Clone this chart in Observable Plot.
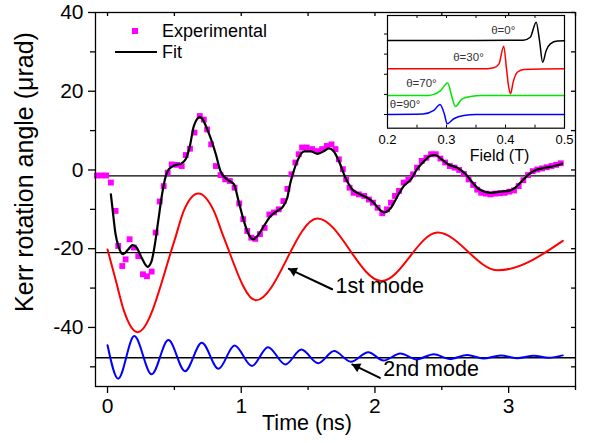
<!DOCTYPE html>
<html>
<head>
<meta charset="utf-8">
<script src="https://cdn.jsdelivr.net/npm/d3@7"></script>
<script src="https://cdn.jsdelivr.net/npm/@observablehq/plot@0.6"></script>
<style>
  html, body { margin: 0; padding: 0; background: white; }
  #wrap { position: relative; width: 596px; height: 443px; }
  #inset { position: absolute; left: 377px; top: 13px; }
</style>
</head>
<body>
<div id="wrap"><div id="main"></div><div id="inset"></div></div>
<script>
// ---- Main chart data (time in ns, Kerr rotation in µrad) ----
const expT = [-0.08,-0.045,-0.01,0.025,0.06,0.08,0.11,0.135,0.165,0.197,0.23,0.265,0.295,0.33,0.36,0.39,0.42,0.45,0.48,0.52,0.555,0.585,0.617,0.65,0.69,0.72,0.745,0.775,0.81,0.845,0.88,0.915,0.95,0.985,1.015,1.045,1.075,1.105,1.14,1.175,1.21,1.245,1.28,1.315,1.345,1.375,1.405,1.43,1.455,1.49,1.53,1.57,1.605,1.64,1.675,1.705,1.73,1.76,1.785,1.81,1.84,1.88,1.92,1.955,1.985,2.02,2.055,2.09,2.12,2.15,2.18,2.215,2.25,2.285,2.315,2.35,2.385,2.42,2.455,2.49,2.525,2.56,2.595,2.63,2.665,2.70,2.735,2.765,2.795,2.83,2.865,2.90,2.935,2.97,3.005,3.04,3.075,3.11,3.145,3.18,3.215,3.25,3.285,3.32,3.355,3.39];
const expV = [-1.4,-1.4,-1.4,-3.2,-10.4,-19.3,-24.4,-22.7,-17.6,-19.7,-21.9,-26.5,-27,-25.8,-15.9,-8,-4.1,-0.7,1.4,1.3,1.0,3.8,5.4,9.5,13.7,12.8,10.3,6.5,1.0,-1.3,-2.4,-2.8,-4.5,-8.5,-12.5,-15.5,-17.2,-17.5,-16.3,-14.7,-11.3,-10.8,-10.0,-7.9,-4.8,-1.1,1.9,4.0,5.7,5.7,5.3,4.8,5.3,6.1,6.5,5.3,2.7,0.2,-2.4,-4.5,-5.8,-6.2,-6.6,-7.5,-8.3,-9.6,-11.0,-10.0,-8.3,-6.6,-5.3,-3.2,-2.4,-1.1,0.6,2.3,3.1,4.0,4.0,2.9,1.9,1.0,0.6,0.0,-1.0,-2.4,-3.8,-5.0,-5.8,-6.0,-6.2,-6.0,-5.9,-5.8,-5.5,-5.2,-4.1,-2.6,-1.3,-0.3,0.1,0.4,0.7,1.0,1.3,1.7];

const fitT = [0.025,0.042,0.06,0.085,0.117,0.154,0.187,0.217,0.255,0.30,0.33,0.354,0.379,0.404,0.429,0.459,0.504,0.549,0.584,0.616,0.646,0.691,0.76,0.81,0.845,0.895,0.945,0.98,1.02,1.055,1.09,1.12,1.17,1.22,1.27,1.305,1.345,1.365,1.385,1.42,1.47,1.52,1.57,1.62,1.655,1.69,1.73,1.78,1.83,1.89,1.94,1.99,2.04,2.07,2.12,2.17,2.215,2.27,2.315,2.37,2.415,2.45,2.5,2.55,2.615,2.68,2.73,2.78,2.865,2.94,3.0,3.05,3.10,3.15,3.2,3.28,3.34,3.40];
const fitV = [-6.2,-11.3,-16.3,-19.7,-21.4,-20.2,-19.1,-19.7,-22.3,-24.6,-23.1,-18.9,-13,-7.0,-2.4,0.2,1.2,1.6,2.7,6.1,11.2,13.4,9.1,4.0,-0.3,-2.4,-3.6,-7.9,-13,-16.3,-17.6,-16.8,-14.2,-11.7,-10.4,-9.6,-7.0,-3.6,-1.1,2.3,4.7,4.7,4.1,4.8,5.5,4.8,2.3,-2.0,-4.9,-6.2,-7.0,-8.3,-10.2,-10.8,-9.6,-6.6,-4.1,-2.4,0.2,2.3,3.6,3.8,2.7,1.4,0.6,-1.1,-3.2,-4.9,-5.8,-5.5,-5.3,-4.5,-2.8,-1.1,-0.1,0.6,1.0,1.6];

const mode1T = [0,0.063,0.123,0.225,0.5,0.57,0.68,0.795,0.87,1.11,1.57,2.05,2.47,2.92,3.405];
const mode1V = [-20.2,-28.2,-35.8,-41.2,-18,-10.4,-6.0,-10.4,-17.2,-33.1,-12.3,-28.2,-15.9,-25.5,-18.0];

const mode2T = [0,0.08,0.2,0.33,0.455,0.58,0.705,0.83,0.95,1.08,1.2,1.33,1.45,1.575,1.695,1.82,1.95,2.065,2.19,2.31,2.44,2.56,2.69,2.81,2.94,3.06,3.19,3.30,3.405];
const mode2V = [-44.5,-53,-42.2,-51.9,-43.2,-51.1,-43.9,-50.5,-44.6,-49.8,-45,-49.4,-45.6,-49.1,-46,-48.7,-46.3,-48.4,-46.6,-48.1,-46.8,-48.0,-47.0,-47.9,-47.1,-47.8,-47.2,-47.7,-47.1];

const baselines = [-1.5, -21.0, -47.7];

const xMajor = [0, 1, 2, 3];
const xMinor = [0.5, 1.5, 2.5, 3.5];
const xTop = [0, 0.5, 1, 1.5, 2, 2.5, 3, 3.5];
const yMajor = [-40, -20, 0, 20, 40];
const yMinor = [-50, -30, -10, 10, 30];
const yRight = [-50, -40, -30, -20, -10, 0, 10, 20, 30, 40];

const annoText = ["1st mode", "2nd mode"];
const annoTextT = [1.705, 2.062];
const annoTextV = [-29.5, -50.6];
const arrowFromT = [1.68, 2.037];
const arrowFromV = [-30.3, -52.8];
const arrowToT = [1.356, 1.83];
const arrowToV = [-25.1, -49.4];

const legendLabels = ["Experimental", "Fit"];
const xTitle = "Time (ns)";
const yTitle = "Kerr rotation angle (μrad)";

// ---- Inset data (field in T, offset curves in arbitrary units) ----
const insetLabels = ["θ=0°", "θ=30°", "θ=70°", "θ=90°"];
const insetLabelF = [0.3758, 0.3114, 0.2317, 0.2039];
const insetLabelV = [4.175, 2.82, 1.556, 0.483];
const insetColors = ["#000000", "#ff0000", "#00e600", "#0000ff"];

const blackF = [0.2,0.35,0.43,0.442,0.452,0.4576,0.463,0.469,0.476,0.488,0.5];
const blackV = [3.68,3.68,3.69,3.84,4.59,3.68,2.60,3.18,3.51,3.65,3.66];
const redF = [0.2,0.37,0.38,0.389,0.397,0.4017,0.405,0.4085,0.413,0.42,0.431,0.5];
const redV = [2.27,2.28,2.32,2.52,3.39,2.27,1.45,1.03,1.61,2.1,2.24,2.27];
const greenF = [0.2,0.27,0.2785,0.29,0.302,0.3085,0.315,0.3266,0.3407,0.36,0.5];
const greenV = [0.94,0.95,1.0,1.19,1.56,0.95,0.40,0.78,0.9,0.94,0.94];
const blueF = [0.2,0.26,0.2785,0.289,0.2966,0.301,0.3124,0.3293,0.35,0.5];
const blueV = [0,0.02,0.2,0.5,0.0,-0.46,-0.21,-0.05,0,0];

const insetXLabels = [0.2, 0.3, 0.4, 0.5];
const insetXTicks = [0.25, 0.3, 0.35, 0.4, 0.45];
const insetYTicks = [0, 1, 2, 3, 4];
const insetXTitle = "Field (T)";

// ---- build tables ----
const zip = (a, b) => a.map((x, i) => ({x, y: b[i]}));
const exp = zip(expT, expV);
const fit = zip(fitT, fitV);
const mode1 = zip(mode1T, mode1V);
const mode2 = zip(mode2T, mode2V);
const annos = annoText.map((s, i) => ({s, x: annoTextT[i], y: annoTextV[i]}));
const arrows = arrowFromT.map((_, i) => ({x1: arrowFromT[i], y1: arrowFromV[i], x2: arrowToT[i], y2: arrowToV[i]}));

const FONT = "'Liberation Sans', Arial, Helvetica, sans-serif";
const fmt = d => String(d);

const W = 596, H = 443, mL = 95, mR = 21, mT = 12, mB = 57;
const innerW = W - mL - mR, innerH = H - mT - mB;

const main = Plot.plot({
  width: W, height: H,
  marginLeft: mL, marginRight: mR, marginTop: mT, marginBottom: mB,
  x: {domain: [-0.09, 3.5]},
  y: {domain: [-55, 40]},
  style: {fontFamily: FONT, color: "black", background: "white", overflow: "visible"},
  marks: [
    Plot.ruleY(baselines, {stroke: "black", strokeWidth: 1.3}),
    Plot.line(mode1, {x: "x", y: "y", curve: "monotone-x", stroke: "#ff0000", strokeWidth: 2}),
    Plot.line(mode2, {x: "x", y: "y", curve: "monotone-x", stroke: "#0000ff", strokeWidth: 2}),
    Plot.dot(exp, {x: "x", y: "y", symbol: "square", fill: "#ff00ff", r: 3.3}),
    Plot.line(fit, {x: "x", y: "y", curve: "monotone-x", stroke: "black", strokeWidth: 2.2}),
    Plot.frame({stroke: "black", strokeWidth: 1.3}),
    Plot.axisX({ticks: xMajor, tickSize: 7, tickPadding: 5, tickFormat: fmt, fontSize: 21, label: null, strokeWidth: 1.3}),
    Plot.axisX({ticks: xMinor, tickSize: 4, tickFormat: () => "", label: null, strokeWidth: 1.3}),
    Plot.axisY({ticks: yMajor, tickSize: 7, tickPadding: 5, tickFormat: fmt, fontSize: 21, label: null, strokeWidth: 1.3}),
    Plot.axisY({ticks: yMinor, tickSize: 5, tickFormat: () => "", label: null, strokeWidth: 1.3}),
    Plot.tickX(xTop, {x: d => d, stroke: "black", strokeWidth: 1.3, insetBottom: innerH - 4}),
    Plot.tickY(yRight, {y: d => d, stroke: "black", strokeWidth: 1.3, insetLeft: innerW - 4}),
    Plot.arrow(arrows, {x1: "x1", y1: "y1", x2: "x2", y2: "y2", stroke: "black", strokeWidth: 2, headLength: 0}),
    Plot.dot(arrows, {x: "x2", y: "y2", symbol: "triangle", fill: "black", r: 3.6, rotate: -64.5, dx: 4.6, dy: 2.2}),
    Plot.text(annos, {x: "x", y: "y", text: "s", textAnchor: "start", fontSize: 21.5, fill: "black"}),
    Plot.text([xTitle], {frameAnchor: "bottom", dx: -28.5, dy: 37, lineAnchor: "middle", fontSize: 21.5, fill: "black"})
  ]
});
document.getElementById("main").appendChild(main);

// legend and y title
const svg = d3.select(main);
const lg = svg.append("g").attr("font-family", FONT).attr("font-size", 18).attr("fill", "black").attr("text-anchor", "start");
lg.append("rect").attr("x", 132).attr("y", 28).attr("width", 6).attr("height", 6).attr("fill", "#ff00ff");
lg.append("text").attr("x", 162).attr("y", 31).attr("dy", "0.35em").text(legendLabels[0]);
lg.append("line").attr("x1", 115).attr("x2", 157).attr("y1", 52).attr("y2", 52).attr("stroke", "black").attr("stroke-width", 2.2);
lg.append("text").attr("x", 162).attr("y", 52).attr("dy", "0.35em").text(legendLabels[1]);
svg.append("text").attr("font-family", FONT).attr("font-size", 25).attr("fill", "black")
  .attr("text-anchor", "middle").attr("transform", "translate(33,172) rotate(-90)").text(yTitle);

// ---- inset ----
const iW = 197, iH = 160, imL = 10, imR = 10, imT = 2, imB = 45.3;
const iInnerW = iW - imL - imR, iInnerH = iH - imT - imB;
const curves = [zip(blackF, blackV), zip(redF, redV), zip(greenF, greenV), zip(blueF, blueV)];
const ilabels = insetLabels.map((s, i) => ({s, x: insetLabelF[i], y: insetLabelV[i]}));

const inset = Plot.plot({
  width: iW, height: iH,
  marginLeft: imL, marginRight: imR, marginTop: imT, marginBottom: imB,
  x: {domain: [0.2, 0.5]},
  y: {domain: [-0.68, 4.92]},
  style: {fontFamily: FONT, color: "black", background: "transparent", overflow: "visible"},
  marks: [
    Plot.frame({fill: "white"}),
    ...curves.map((c, i) => Plot.line(c, {x: "x", y: "y", curve: "monotone-x", stroke: insetColors[i], strokeWidth: 1.5})),
    Plot.text(ilabels, {x: "x", y: "y", text: "s", textAnchor: "start", fontSize: 11.5, fill: "#333"}),
    Plot.frame({stroke: "black", strokeWidth: 1.2}),
    Plot.axisX({ticks: insetXLabels, tickSize: 0, tickPadding: 7, tickFormat: fmt, fontSize: 13, label: null}),
    Plot.axisY({ticks: insetYTicks, tickSize: 3, tickFormat: () => "", label: null}),
    Plot.tickX(insetXTicks, {x: d => d, stroke: "black", insetTop: iInnerH - 3}),
    Plot.tickX(insetXTicks, {x: d => d, stroke: "black", insetBottom: iInnerH - 3}),
    Plot.text([insetXTitle], {frameAnchor: "bottom", dx: 23.5, dy: 28, lineAnchor: "middle", fontSize: 16, fill: "black"})
  ]
});
document.getElementById("inset").appendChild(inset);
</script>
</body>
</html>
